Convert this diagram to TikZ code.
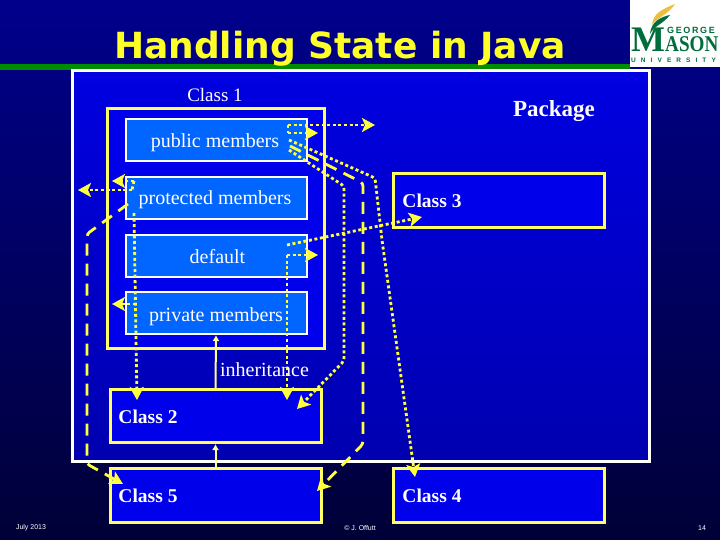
\documentclass[tikz,border=0pt]{standalone}
\usepackage{fontspec}
\usepackage{graphicx}
\setmainfont{Liberation Serif}
\newfontfamily\titlefont{DejaVu Sans}
\newfontfamily\footfont{Liberation Sans}
\usetikzlibrary{arrows.meta}
\definecolor{ylw}{RGB}{255,255,60}
\definecolor{boxylw}{RGB}{255,255,100}
\definecolor{memberblue}{RGB}{0,102,255}
\definecolor{classblue}{RGB}{0,0,235}
\definecolor{gmgreen}{RGB}{0,110,60}
\definecolor{gmgold}{RGB}{235,190,60}
\tikzset{
  x=1pt,y=-1pt,
  member/.style={draw=white,line width=2pt,fill=memberblue,minimum width=181pt,minimum height=42pt,inner sep=0pt},
  classbox/.style={draw=boxylw,line width=3pt,fill=classblue,inner sep=0pt},
  lbl/.style={font=\fontsize{20}{22}\selectfont,text=white,inner sep=0pt,anchor=base},
  blbl/.style={font=\fontsize{19.5}{22}\selectfont\bfseries,text=white,inner sep=0pt,anchor=base},
  foot/.style={font=\footfont\fontsize{7}{8}\selectfont,text=white,inner sep=0pt},
  dotline/.style={draw=ylw,line width=2.8pt,dash pattern=on 3pt off 2.6pt,rounded corners=3pt,-{Stealth[length=13pt,width=14pt,inset=3pt]}},
  dashline/.style={draw=ylw,line width=2.8pt,dash pattern=on 12pt off 8pt,rounded corners=3pt,-{Stealth[length=13pt,width=14pt,inset=3pt]}},
  dotplain/.style={draw=ylw,line width=2.8pt,dash pattern=on 3pt off 2.6pt},
  inherit/.style={draw={rgb,255:red,255;green,255;blue,150},line width=2pt,-{Latex[length=6pt,width=7pt]}}
}
\begin{document}
\begin{tikzpicture}
\useasboundingbox (0,0) rectangle (720,540);
\shade[top color={rgb,255:red,0;green,0;blue,140},bottom color={rgb,255:red,0;green,0;blue,55}] (0,0) rectangle (720,540);
\fill[green!55!black] (0,64) rectangle (630,70);
% package
\shade[top color={rgb,255:red,0;green,0;blue,225},bottom color={rgb,255:red,0;green,0;blue,175}] (72,71) rectangle (649,461);
\draw[white,line width=3pt] (72,71) rectangle (649,461);
% logo
\fill[white] (630,0) rectangle (720,67);
\node[inner sep=0pt,anchor=base west,font=\footfont\bfseries\fontsize{9}{10}\selectfont\addfontfeature{LetterSpace=18},text=gmgreen] (lgeorge) at (667,33.5) {GEORGE};
\node[inner sep=0pt,anchor=base west,font=\bfseries\fontsize{36}{36}\selectfont,text=gmgreen] (lm) at (631,52) {M};
\node[inner sep=0pt,anchor=base west,font=\bfseries\fontsize{22.5}{25}\selectfont,text=gmgreen] (lason) at (665,52) {\scalebox{0.85}[1]{ASON}};
\node[inner sep=0pt,anchor=base west,font=\footfont\bfseries\fontsize{6.5}{7}\selectfont\addfontfeature{LetterSpace=78},text=gmgreen] (luni) at (631,63) {UNIVERSITY};
\fill[gmgold] (675,4) .. controls (663,9) and (653,13) .. (652,25) .. controls (656,18) and (668,15) .. (675,4);
\fill[gmgreen] (670,15) .. controls (660,17) and (651,22) .. (650,34) .. controls (654,26) and (663,24) .. (670,15);
% title
\node[inner sep=0pt,anchor=base,font=\titlefont\bfseries\fontsize{36}{38}\selectfont,text={rgb,255:red,255;green,255;blue,40}] (title) at (340,59) {Handling State in Java};
% class 1
\node[draw=boxylw,line width=3pt,minimum width=217pt,minimum height=239pt,inner sep=0pt,fill=classblue] (c1) at (215.5,228.5) {};
\node[member] (pub) at (216,140) {};
\node[member] (pro) at (216,198) {};
\node[member] (def) at (216,256) {};
\node[member] (pri) at (216,313) {};
\node[classbox,minimum width=211pt,minimum height=53pt] (c2) at (215.5,416) {};
\node[classbox,minimum width=211pt,minimum height=54pt] (c5) at (215.5,495.5) {};
\node[classbox,minimum width=211pt,minimum height=54pt] (c3) at (499,200.5) {};
\node[classbox,minimum width=211pt,minimum height=54pt] (c4) at (499,495.5) {};
% labels
\node[blbl,font=\fontsize{19}{22}\selectfont] (tc1) at (215,102) {Class 1};
\node[blbl,font=\fontsize{23}{25}\selectfont\bfseries] (tp) at (554,117) {Package};
\node[lbl] (tpub) at (215,148) {public members};
\node[lbl] (tpro) at (215,205) {protected members};
\node[lbl] (tdef) at (217.5,263) {default};
\node[lbl] (tpri) at (216,321) {private members};
\node[lbl] (tinh) at (264.5,376) {inheritance};
\node[blbl] (tc2) at (148,423.5) {Class 2};
\node[blbl] (tc5) at (148,502) {Class 5};
\node[blbl] (tc3) at (432,207.5) {Class 3};
\node[blbl] (tc4) at (432,502) {Class 4};
\node[foot] (f1) at (31,528) {July 2013};
\node[foot] (f2) at (360,528) {© J. Offutt};
\node[foot] (f3) at (702,528) {14};
% coordinates
\coordinate (a1) at (288,125);
\coordinate (a2) at (375,125);
\coordinate (a3) at (288,133);
\coordinate (a4) at (318,133);
\coordinate (b1) at (289,140);
\coordinate (b2) at (375,178);
\coordinate (b3) at (382,240);
\coordinate (b4) at (415,477);
\coordinate (d1) at (290,146);
\coordinate (d2) at (363,183);
\coordinate (d3) at (363,444);
\coordinate (d4) at (317,491);
\coordinate (e1) at (289,150);
\coordinate (e2) at (344,186);
\coordinate (e3) at (344,361);
\coordinate (e4) at (297,409);
\coordinate (g1) at (134,181);
\coordinate (g2) at (112,181);
\coordinate (g3) at (132,190);
\coordinate (g4) at (78,190);
\coordinate (h1) at (128,204);
\coordinate (h2) at (87,234);
\coordinate (h3) at (87,464);
\coordinate (h4) at (123,484);
\coordinate (i1) at (134,213);
\coordinate (i2) at (137,400);
\coordinate (i3) at (136,304);
\coordinate (i4) at (112,304);
\coordinate (j1) at (287,245);
\coordinate (j2) at (422,217);
\coordinate (k1) at (287,255);
\coordinate (k2) at (318,255);
\coordinate (k3) at (287,400);
% connectors
\draw[dotline] (a1) -- (a2);
\draw[dotline] (a3) -- (a4);
\draw[dotplain] (a1) -- (a3);
\draw[dotline] (b1) -- (b2) -- (b3) -- (b4);
\draw[dashline] (d1) -- (d2) -- (d3) -- (d4);
\draw[dotline] (e1) -- (e2) -- (e3) -- (e4);
\draw[dotline] (g1) -- (g2);
\draw[dotline] (g3) -- (g4);
\draw[dotplain] (g1) -- (g3);
\draw[dashline] (h1) -- (h2) -- (h3) -- (h4);
\draw[dotline] (i1) -- (i2);
\draw[dotline] (i3) -- (i4);
\draw[dotline] (j1) -- (j2);
\draw[dotline] (k1) -- (k2);
\draw[dotline] (k1) -- (k3);
\draw[inherit] (c2.north) -- (pri.south);
\draw[inherit] (c5.north) -- (c2.south);
\end{tikzpicture}
\end{document}
